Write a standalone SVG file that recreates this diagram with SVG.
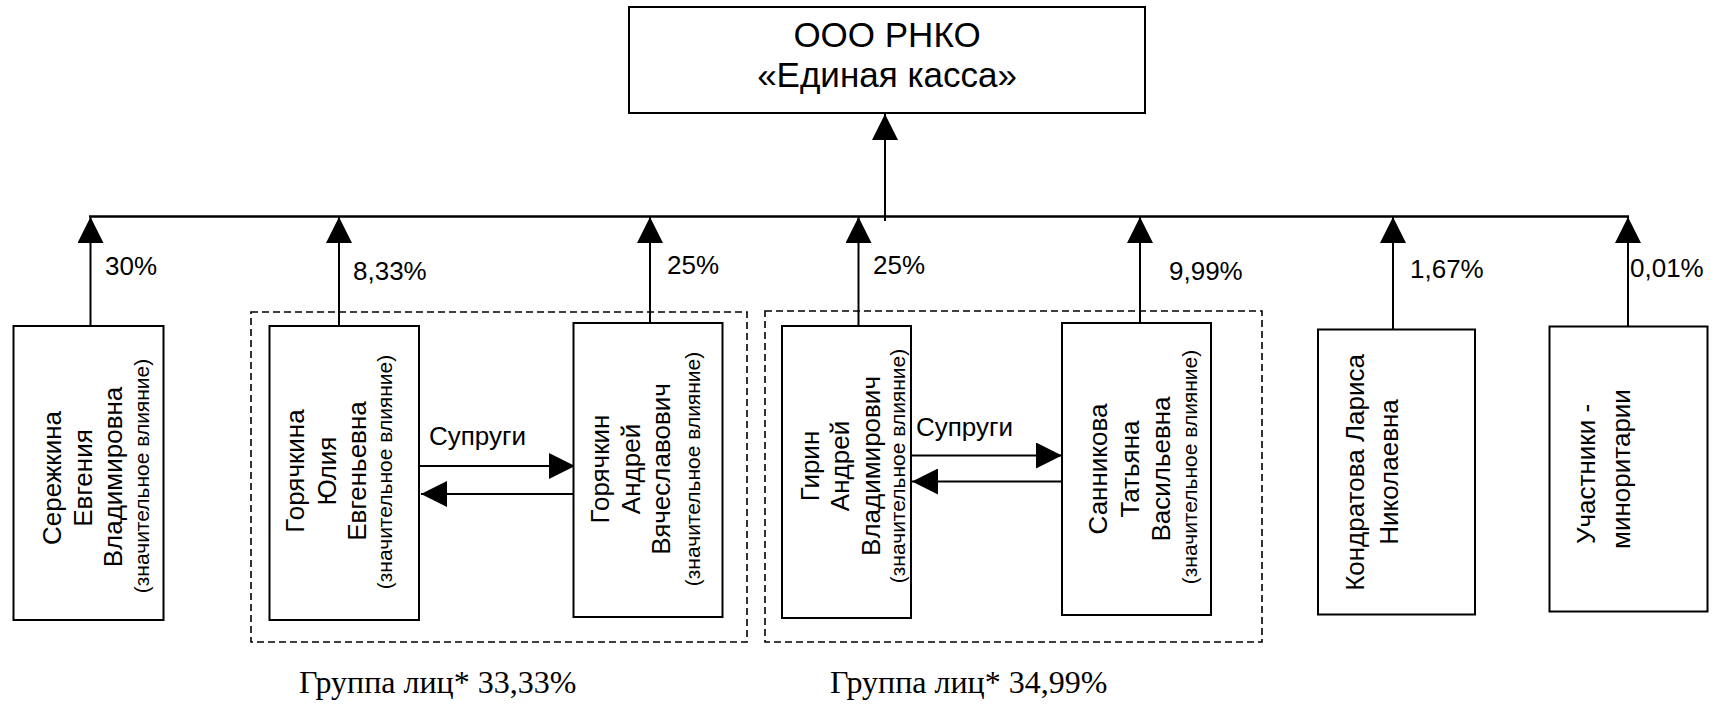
<svg xmlns="http://www.w3.org/2000/svg" width="1730" height="704" viewBox="0 0 1730 704">
<style>
.box{fill:#fff;stroke:#000;stroke-width:2}
.grp{fill:none;stroke:#000;stroke-width:1.6;stroke-dasharray:7 4}
.ln{fill:none;stroke:#000;stroke-width:2}
.bus{fill:none;stroke:#000;stroke-width:2.6}
.t{font-family:"Liberation Sans",Arial,sans-serif;fill:#000}
.n{font-size:26px}
.s{font-size:21px}
.p{font-size:26px}
.g{font-family:"Liberation Serif","Times New Roman",serif;font-size:32px;fill:#000}
</style>
<defs>
<marker id="ah" markerUnits="userSpaceOnUse" markerWidth="26" markerHeight="26" viewBox="0 0 26 26" refX="26" refY="13" orient="auto">
<path d="M0,0 L26,13 L0,26 z" fill="#000"/>
</marker>
</defs>

<g id="groups">
<rect class="grp" x="251" y="312" width="496" height="330"/>
<rect class="grp" x="765" y="311" width="497" height="331"/>
</g>

<g id="connectors">
<line class="bus" x1="89" y1="216.5" x2="1629" y2="216.5"/>
<line class="ln" x1="885" y1="221" x2="885" y2="114" marker-end="url(#ah)"/>
<line class="ln" x1="90.5" y1="326" x2="90.5" y2="217" marker-end="url(#ah)"/>
<line class="ln" x1="339" y1="326" x2="339" y2="217" marker-end="url(#ah)"/>
<line class="ln" x1="650" y1="323" x2="650" y2="217" marker-end="url(#ah)"/>
<line class="ln" x1="858.5" y1="326" x2="858.5" y2="217" marker-end="url(#ah)"/>
<line class="ln" x1="1140" y1="323" x2="1140" y2="217" marker-end="url(#ah)"/>
<line class="ln" x1="1393" y1="330" x2="1393" y2="217" marker-end="url(#ah)"/>
<line class="ln" x1="1628" y1="327" x2="1628" y2="217" marker-end="url(#ah)"/>
<line class="ln" x1="419" y1="466" x2="575" y2="466" marker-end="url(#ah)"/>
<line class="ln" x1="573" y1="494" x2="421" y2="494" marker-end="url(#ah)"/>
<line class="ln" x1="911" y1="455.5" x2="1062" y2="455.5" marker-end="url(#ah)"/>
<line class="ln" x1="1062" y1="481.5" x2="912" y2="481.5" marker-end="url(#ah)"/>
<text class="t p" x="105" y="275">30%</text>
<text class="t p" x="353" y="280">8,33%</text>
<text class="t p" x="667" y="274">25%</text>
<text class="t p" x="873" y="274">25%</text>
<text class="t p" x="1169" y="280">9,99%</text>
<text class="t p" x="1410" y="278">1,67%</text>
<text class="t p" x="1630" y="277">0,01%</text>
<text class="t p" x="429" y="445">Супруги</text>
<text class="t p" x="916" y="436">Супруги</text>
</g>

<g id="top">
<rect class="box" x="629" y="7" width="516" height="106"/>
<text class="t" font-size="35" text-anchor="middle" x="887" y="47">ООО РНКО</text>
<text class="t" font-size="35" text-anchor="middle" x="887" y="87">«Единая касса»</text>
</g>

<g id="serezhkina">
<rect class="box" x="13.5" y="326" width="150" height="294"/>
<g class="t n" text-anchor="middle">
<text transform="translate(60.5,478) rotate(-90)">Сережкина</text>
<text transform="translate(91.5,478) rotate(-90)">Евгения</text>
<text transform="translate(121.5,477) rotate(-90)">Владимировна</text>
<text class="s" transform="translate(148.5,476) rotate(-90)">(значительное влияние)</text>
</g>
</g>

<g id="goryachkina">
<rect class="box" x="269.5" y="326" width="149.5" height="294"/>
<g class="t n" text-anchor="middle">
<text transform="translate(303.5,471) rotate(-90)">Горячкина</text>
<text transform="translate(335.5,471) rotate(-90)">Юлия</text>
<text transform="translate(365.5,471) rotate(-90)">Евгеньевна</text>
<text class="s" transform="translate(391.5,472) rotate(-90)">(значительное влияние)</text>
</g>
</g>

<g id="goryachkin">
<rect class="box" x="573.5" y="323" width="149" height="294"/>
<g class="t n" text-anchor="middle">
<text transform="translate(608.5,469) rotate(-90)">Горячкин</text>
<text transform="translate(640,469) rotate(-90)">Андрей</text>
<text transform="translate(670,469) rotate(-90)">Вячеславович</text>
<text class="s" transform="translate(700,469) rotate(-90)">(значительное влияние)</text>
</g>
</g>

<g id="girin">
<rect class="box" x="782" y="326" width="129" height="292"/>
<g class="t n" text-anchor="middle">
<text transform="translate(818.5,466) rotate(-90)">Гирин</text>
<text transform="translate(848.5,466) rotate(-90)">Андрей</text>
<text transform="translate(880,466) rotate(-90)">Владимирович</text>
<text class="s" transform="translate(905,466) rotate(-90)">(значительное влияние)</text>
</g>
</g>

<g id="sannikova">
<rect class="box" x="1062" y="323" width="149" height="292"/>
<g class="t n" text-anchor="middle">
<text transform="translate(1106.5,469) rotate(-90)">Санникова</text>
<text transform="translate(1138.5,469) rotate(-90)">Татьяна</text>
<text transform="translate(1169.5,469) rotate(-90)">Васильевна</text>
<text class="s" transform="translate(1197,467) rotate(-90)">(значительное влияние)</text>
</g>
</g>

<g id="kondratova">
<rect class="box" x="1318" y="329.5" width="157" height="285"/>
<g class="t n" text-anchor="middle">
<text transform="translate(1363.5,472.5) rotate(-90)">Кондратова Лариса</text>
<text transform="translate(1398,472) rotate(-90)">Николаевна</text>
</g>
</g>

<g id="minority">
<rect class="box" x="1549.5" y="326.5" width="158" height="285"/>
<g class="t n" text-anchor="middle">
<text transform="translate(1595,474) rotate(-90)">Участники -</text>
<text transform="translate(1630,469) rotate(-90)">миноритарии</text>
</g>
</g>

<g id="labels">
<text class="g" x="299" y="693">Группа лиц* 33,33%</text>
<text class="g" x="830" y="693">Группа лиц* 34,99%</text>
</g>
</svg>
